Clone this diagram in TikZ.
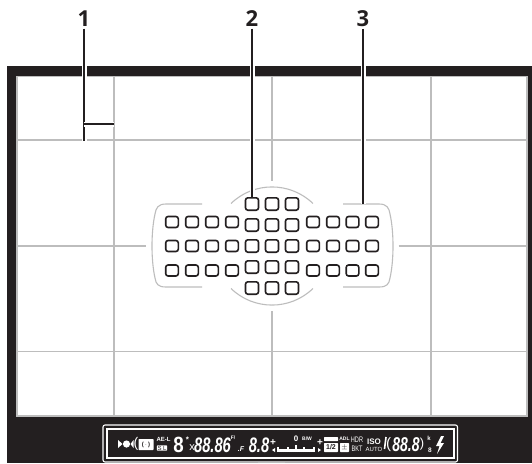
\documentclass[tikz,border=0pt]{standalone}
\usepackage{fontspec}
\setmainfont{Liberation Sans}
\newfontfamily\labelfont{Open Sans}
\definecolor{framedark}{HTML}{231F20}
\definecolor{gridgray}{HTML}{BDBDBD}
\tikzset{
  gridline/.style={draw=gridgray, line width=1.1pt},
  leader/.style={draw=framedark, line width=1.3pt, preaction={draw=white, line width=5pt}},
  calllabel/.style={font=\labelfont\bfseries\fontsize{22}{22}\selectfont, text=framedark, inner sep=0pt},
  afouter/.style={draw=framedark, line width=1.6pt, fill=white, rounded corners=2.4pt, minimum width=12.6pt, minimum height=11pt, inner sep=0pt},
  afcenter/.style={afouter, minimum width=13pt, minimum height=12.4pt},
  lcd/.style={text=white, inner sep=0pt, font=\fontsize{7}{7}\selectfont},
  lcdbig/.style={text=white, inner sep=0pt, font=\bfseries\itshape\fontsize{21}{21}\selectfont, xscale=.7, transform shape},
  lcdbox/.style={fill=white, text=framedark, inner sep=.6pt, rounded corners=.6pt, font=\bfseries\fontsize{7}{7}\selectfont}
}
\begin{document}
\begin{tikzpicture}[x=1pt, y=-1pt]
\useasboundingbox (0,0) rectangle (532,463);
\fill[framedark] (7,66) rectangle (532,463);
\draw[gridline, fill=white] (17,76.5) rectangle (527,416);
\draw[gridline] (17,140) -- (527,140);
\draw[gridline] (17,351.5) -- (527,351.5);
\draw[gridline] (17,246) -- (146,246);
\draw[gridline] (398.5,246) -- (527,246);
\draw[gridline] (114,76.5) -- (114,416);
\draw[gridline] (431,76.5) -- (431,416);
\draw[gridline] (272,76.5) -- (272,181);
\draw[gridline] (272,311) -- (272,416);
\draw[gridline] (202,204) -- (166,204) .. controls (158,204) and (156,208) .. (155,214) .. controls (151,232) and (151,260) .. (155,278) .. controls (156,284) and (158,287) .. (166,287) -- (202,287);
\draw[gridline] (343,204) -- (379,204) .. controls (387,204) and (389,208) .. (390,214) .. controls (394,232) and (394,260) .. (390,278) .. controls (389,284) and (387,287) .. (379,287) -- (343,287);
\draw[gridline] (231,203.5) arc[start angle=-134, end angle=-46, radius=59];
\draw[gridline] (231,288.5) arc[start angle=134, end angle=46, radius=59];
\node[afouter] (l11) at (172,222) {};
\node[afouter] (l12) at (192,222) {};
\node[afouter] (l13) at (212,222) {};
\node[afouter] (l14) at (232,222) {};
\node[afouter] (l21) at (172,246) {};
\node[afouter] (l22) at (192,246) {};
\node[afouter] (l23) at (212,246) {};
\node[afouter] (l24) at (232,246) {};
\node[afouter] (l31) at (172,270.5) {};
\node[afouter] (l32) at (192,270.5) {};
\node[afouter] (l33) at (212,270.5) {};
\node[afouter] (l34) at (232,270.5) {};
\node[afcenter] (c11) at (252,204) {};
\node[afcenter] (c12) at (272,204) {};
\node[afcenter] (c13) at (292,204) {};
\node[afcenter] (c21) at (252,225) {};
\node[afcenter] (c22) at (272,225) {};
\node[afcenter] (c23) at (292,225) {};
\node[afcenter] (c31) at (252,246) {};
\node[afcenter] (c32) at (272,246) {};
\node[afcenter] (c33) at (292,246) {};
\node[afcenter] (c41) at (252,267) {};
\node[afcenter] (c42) at (272,267) {};
\node[afcenter] (c43) at (292,267) {};
\node[afcenter] (c51) at (252,288) {};
\node[afcenter] (c52) at (272,288) {};
\node[afcenter] (c53) at (292,288) {};
\node[afouter] (r11) at (313,222) {};
\node[afouter] (r12) at (333,222) {};
\node[afouter] (r13) at (352.5,222) {};
\node[afouter] (r14) at (372,222) {};
\node[afouter] (r21) at (313,246) {};
\node[afouter] (r22) at (333,246) {};
\node[afouter] (r23) at (352.5,246) {};
\node[afouter] (r24) at (372,246) {};
\node[afouter] (r31) at (313,270.5) {};
\node[afouter] (r32) at (333,270.5) {};
\node[afouter] (r33) at (352.5,270.5) {};
\node[afouter] (r34) at (372,270.5) {};
\node[calllabel] (one) at (84,18.5) {1};
\node[calllabel] (two) at (252,18.5) {2};
\node[calllabel] (three) at (363,18.5) {3};
\coordinate (gridend) at (84,141);
\coordinate (gridjoin) at (84,124);
\coordinate (gridside) at (113.5,124);
\coordinate (bracket) at (363,204);
\draw[leader] (one.south)+(0,2) -- (gridend);
\draw[leader] (gridjoin) -- (gridside);
\draw[leader] (two.south)+(0,2) -- (c11.north);
\draw[leader] (three.south)+(0,2) -- (bracket);
\draw[white, line width=1.1pt, rounded corners=2pt] (103,425) rectangle (457.5,462);
\draw[white, line width=1.1pt] (107,429) rectangle (454,458);
\fill[gridgray] (258,462) rectangle (285,463);
\fill[white] (118,440) -- (122.5,444) -- (118,448) -- cycle;
\fill[white] (126.5,444) circle[radius=3.6];
\fill[white] (133.5,440) -- (130.5,444) -- (133.5,448) -- cycle;
\node[lcd, font=\fontsize{14}{14}\selectfont] (bracketleft) at (136,444) {(};
\node[lcdbox, minimum width=15pt, minimum height=11pt, font=\bfseries\fontsize{6}{6}\selectfont] (meter) at (146,444.5) {(\,$\cdot$\,)};
\node[lcd, font=\bfseries\fontsize{6}{6}\selectfont] (ael) at (163.5,439.5) {AE-L};
\node[lcdbox, font=\fontsize{6}{6}\selectfont] (sl) at (162,448) {S L};
\node[lcd, font=\bfseries\fontsize{22}{22}\selectfont, xscale=.85, transform shape] (area) at (178.5,445) {8};
\node[lcd, font=\bfseries\fontsize{8}{8}\selectfont] (star) at (187.5,440) {*};
\node[lcd, font=\fontsize{11}{11}\selectfont] (times) at (192,448) {x};
\node[lcdbig] (shutter) at (212.5,445) {88.86};
\node[lcd, font=\bfseries\fontsize{5}{5}\selectfont] (fv) at (233,438) {F/};
\node[lcd, font=\bfseries\itshape\fontsize{7}{7}\selectfont] (stop) at (241,449.5) {.F};
\node[lcdbig] (aperture) at (259,445) {8.8};
\node[lcd, font=\bfseries\fontsize{10}{10}\selectfont] (plus) at (273,443) {+};
\fill[white] (275,448) -- (272,450) -- (275,452) -- cycle;
\node[lcd, font=\bfseries\fontsize{8}{8}\selectfont] (zero) at (296,439) {0};
\node[lcd, font=\bfseries\fontsize{5}{5}\selectfont] (bw) at (307,439) {B/W};
\node[lcd, font=\bfseries\fontsize{10}{10}\selectfont] (minus) at (320,443) {+};
\draw[white, line width=1.3pt] (278,452) -- (278,446.5) (280,452) -- (280,449) (282,452) -- (282,449) (284,452) -- (284,449) (286,452) -- (286,449) (288,452) -- (288,446.5) (290,452) -- (290,449) (292,452) -- (292,449) (294,452) -- (294,449) (296,452) -- (296,445) (298,452) -- (298,449) (300,452) -- (300,449) (302,452) -- (302,449) (304,452) -- (304,446.5) (306,452) -- (306,449) (308,452) -- (308,449) (310,452) -- (310,449) (312,452) -- (312,449) (314,452) -- (314,446.5);
\fill[white] (318,448) -- (321,450) -- (318,452) -- cycle;
\fill[white, rounded corners=.5pt] (324,437) rectangle (338,441);
\node[lcdbox, minimum width=14pt, minimum height=9pt, font=\bfseries\fontsize{7}{7}\selectfont] (half) at (331,447.5) {1/2};
\node[lcd, font=\bfseries\fontsize{5}{5}\selectfont] (adl) at (344.5,438.5) {ADL};
\node[lcdbox, minimum width=9pt, minimum height=9pt, font=\bfseries\fontsize{7}{7}\selectfont] (comp) at (344.5,447.5) {$\pm$};
\node[lcd, xscale=.7, transform shape, font=\fontsize{8}{8}\selectfont] (hdr) at (357,439.5) {HDR};
\node[lcd, xscale=.7, transform shape, font=\fontsize{8}{8}\selectfont] (bkt) at (357,449) {BKT};
\node[lcd, font=\bfseries\fontsize{8}{8}\selectfont] (iso) at (374,442) {ISO};
\node[lcd, font=\fontsize{6}{6}\selectfont] (auto) at (374,449.5) {AUTO};
\draw[white, line width=1.6pt] (386,437) -- (384.5,449);
\node[lcd, font=\fontsize{15}{15}\selectfont] (open) at (388.5,445) {(};
\node[lcdbig, font=\bfseries\itshape\fontsize{20}{20}\selectfont] (count) at (406,445) {88.8};
\node[lcd, font=\fontsize{13}{13}\selectfont] (close) at (422,444.5) {)};
\node[lcd, font=\bfseries\fontsize{6}{6}\selectfont] (kilo) at (429,438.5) {k};
\node[lcd, font=\bfseries\fontsize{6.5}{6.5}\selectfont] (small) at (430,450.5) {8};
\fill[white] (441,436) -- (436,446) -- (439.5,446) -- (437,454) -- (444,443) -- (440.5,443) -- (444,436) -- cycle;
\end{tikzpicture}
\end{document}
